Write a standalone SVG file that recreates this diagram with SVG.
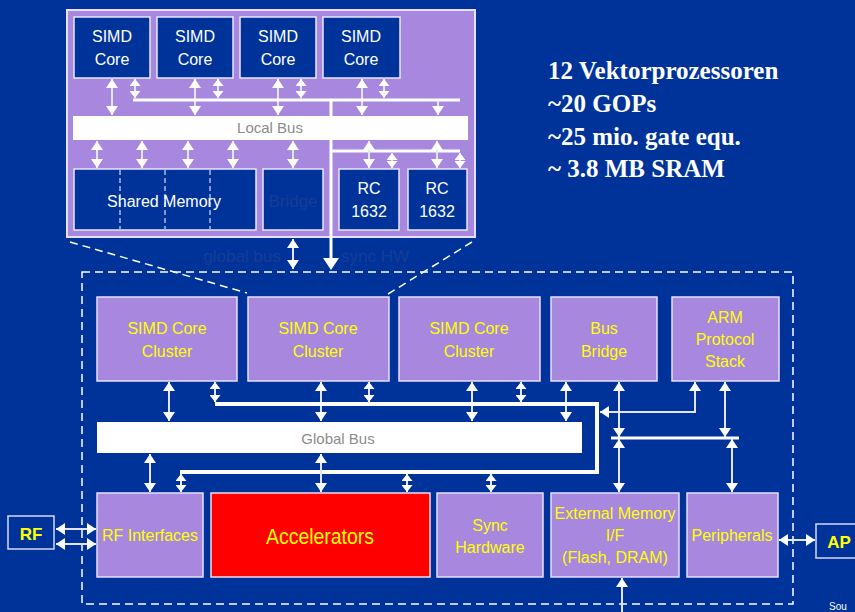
<svg xmlns="http://www.w3.org/2000/svg" width="855" height="612" viewBox="0 0 855 612">
<defs>
<marker id="ah" viewBox="0 0 9 12" refX="9" refY="6" markerWidth="9" markerHeight="12" markerUnits="userSpaceOnUse" orient="auto-start-reverse"><path d="M0,0 L9,6 L0,12 z" fill="#ffffff"/></marker>
<marker id="sh" viewBox="0 0 7 11" refX="7" refY="5.5" markerWidth="7" markerHeight="11" markerUnits="userSpaceOnUse" orient="auto-start-reverse"><path d="M0,0 L7,5.5 L0,11 z" fill="#ffffff"/></marker>
<style>
.bg{fill:#003399}
.pbox{fill:#A887DE;stroke:#E8E0F8;stroke-width:1.5}
.dbox{fill:#003399;stroke:#E8E8F8;stroke-width:1.5}
.bus{fill:#ffffff}
.t{font-family:"Liberation Sans",Arial,sans-serif;text-anchor:middle}
.w{fill:#ffffff;font-size:16px}
.y{fill:#FFFF00;font-size:16px}
.g{fill:#8C8C8C;font-size:15px}
.hid{fill:#163C98;font-size:17px}
.a{stroke:#E4E4F4;stroke-width:2;fill:none;marker-start:url(#ah);marker-end:url(#ah)}
.b{stroke:#E4E4F4;stroke-width:2;fill:none;marker-start:url(#sh);marker-end:url(#sh)}
.a1{stroke:#E4E4F4;stroke-width:2;fill:none;marker-end:url(#ah)}
.thick{stroke:#ffffff;fill:none}
.dash{stroke:#ffffff;stroke-width:1.5;fill:none;stroke-dasharray:8 5}
.s{font-family:"Liberation Serif","Times New Roman",serif;font-weight:bold;fill:#ffffff;font-size:25px}
</style>
</defs>
<rect class="bg" x="0" y="0" width="855" height="612"/>

<g id="inset">
<rect x="67" y="10" width="408" height="227" fill="#A887DE" stroke="#E8E0F8" stroke-width="2"/>
</g>
<g id="simd1"><rect class="dbox" x="74" y="17" width="76" height="61"/><text class="t w" x="112" y="42">SIMD</text><text class="t w" x="112" y="65">Core</text></g>
<g id="simd2"><rect class="dbox" x="157" y="17" width="76" height="61"/><text class="t w" x="195" y="42">SIMD</text><text class="t w" x="195" y="65">Core</text></g>
<g id="simd3"><rect class="dbox" x="240" y="17" width="76" height="61"/><text class="t w" x="278" y="42">SIMD</text><text class="t w" x="278" y="65">Core</text></g>
<g id="simd4"><rect class="dbox" x="323" y="17" width="77" height="61"/><text class="t w" x="361" y="42">SIMD</text><text class="t w" x="361" y="65">Core</text></g>
<g id="localbus"><rect class="bus" x="73" y="116" width="395" height="24"/><text class="t g" x="270" y="133">Local Bus</text></g>
<g id="sharedmem"><rect class="dbox" x="74" y="169" width="182" height="61"/>
<line x1="120" y1="170" x2="120" y2="229" stroke="#ffffff" stroke-width="1" stroke-dasharray="5 3"/>
<line x1="165" y1="170" x2="165" y2="229" stroke="#ffffff" stroke-width="1" stroke-dasharray="5 3"/>
<line x1="210" y1="170" x2="210" y2="229" stroke="#ffffff" stroke-width="1" stroke-dasharray="5 3"/>
<text class="t w" x="164" y="207">Shared Memory</text></g>
<g id="bridge"><rect class="dbox" x="263" y="169" width="60" height="61"/><text class="t hid" x="293" y="207">Bridge</text></g>
<g id="rc1"><rect class="dbox" x="339" y="169" width="60" height="61"/><text class="t w" x="369" y="194">RC</text><text class="t w" x="369" y="217">1632</text></g>
<g id="rc2"><rect class="dbox" x="408" y="169" width="59" height="61"/><text class="t w" x="437" y="194">RC</text><text class="t w" x="437" y="217">1632</text></g>

<text class="t hid" x="242" y="262">global bus</text>
<text class="t hid" x="375" y="262">sync HW</text>

<g id="specs">
<text class="s" x="548" y="79">12 Vektorprozessoren</text>
<text class="s" x="548" y="112">~20 GOPs</text>
<text class="s" x="548" y="145">~25 mio. gate equ.</text>
<text class="s" x="548" y="177">~ 3.8 MB SRAM</text>
</g>

<g id="cluster1"><rect class="pbox" x="97" y="297" width="140" height="84"/><text class="t y" x="167" y="334">SIMD Core</text><text class="t y" x="167" y="357">Cluster</text></g>
<g id="cluster2"><rect class="pbox" x="248" y="297" width="141" height="84"/><text class="t y" x="318" y="334">SIMD Core</text><text class="t y" x="318" y="357">Cluster</text></g>
<g id="cluster3"><rect class="pbox" x="399" y="297" width="141" height="84"/><text class="t y" x="469" y="334">SIMD Core</text><text class="t y" x="469" y="357">Cluster</text></g>
<g id="busbridge"><rect class="pbox" x="551" y="297" width="106" height="84"/><text class="t y" x="604" y="334">Bus</text><text class="t y" x="604" y="357">Bridge</text></g>
<g id="arm"><rect class="pbox" x="672" y="297" width="107" height="84"/><text class="t y" x="725" y="323">ARM</text><text class="t y" x="725" y="345">Protocol</text><text class="t y" x="725" y="367">Stack</text></g>
<g id="globalbus"><rect class="bus" x="97" y="422" width="485" height="31"/><text class="t g" x="338" y="444">Global Bus</text></g>
<g id="rfif"><rect class="pbox" x="97" y="493" width="106" height="84"/><text class="t y" x="150" y="541">RF Interfaces</text></g>
<g id="accel"><rect x="211" y="493" width="219" height="84" fill="#FF0000" stroke="#F0E0F0" stroke-width="1.5"/><text class="t" x="320" y="544" fill="#FFFF00" font-size="22" textLength="108" lengthAdjust="spacingAndGlyphs">Accelerators</text></g>
<g id="sync"><rect class="pbox" x="437" y="493" width="106" height="84"/><text class="t y" x="490" y="531">Sync</text><text class="t y" x="490" y="553">Hardware</text></g>
<g id="extmem"><rect class="pbox" x="551" y="493" width="128" height="84"/><text class="t y" x="615" y="519">External Memory</text><text class="t y" x="615" y="541">I/F</text><text class="t y" x="615" y="563">(Flash, DRAM)</text></g>
<g id="periph"><rect class="pbox" x="687" y="493" width="91" height="84"/><text class="t y" x="732" y="541">Peripherals</text></g>
<g id="rf"><rect x="8" y="516" width="46" height="33" fill="#003399" stroke="#D8D8F0" stroke-width="1.5"/><text class="t" x="31" y="540" fill="#FFFF00" font-size="17" font-weight="bold">RF</text></g>
<g id="ap"><rect x="816" y="524" width="45" height="34" fill="#003399" stroke="#D8D8F0" stroke-width="1.5"/><text class="t" x="839" y="548" fill="#FFFF00" font-size="17" font-weight="bold">AP</text></g>
<text x="829" y="610" font-family="Liberation Sans,Arial,sans-serif" font-size="10" fill="#ffffff">Sou</text>

<g id="connectors">
<line class="dash" x1="70" y1="242" x2="247" y2="293"/>
<line class="dash" x1="472" y1="242" x2="388" y2="294"/>
<rect class="dash" x="82" y="272" width="711" height="332"/>

<line class="a" x1="112" y1="79" x2="112" y2="115"/>
<line class="a" x1="195" y1="79" x2="195" y2="115"/>
<line class="a" x1="278" y1="79" x2="278" y2="115"/>
<line class="a" x1="362" y1="79" x2="362" y2="115"/>
<line class="b" x1="135" y1="79" x2="135" y2="98"/>
<line class="b" x1="218" y1="79" x2="218" y2="98"/>
<line class="b" x1="301" y1="79" x2="301" y2="98"/>
<line class="b" x1="384" y1="79" x2="384" y2="98"/>
<line class="thick" stroke-width="3" x1="133" y1="100" x2="460" y2="100"/>
<line class="a1" x1="438" y1="101" x2="438" y2="115"/>
<line stroke="#ffffff" stroke-width="3" x1="331" y1="100" x2="331" y2="262"/>
<path d="M323,258 L331,270 L339,258 z" fill="#ffffff"/>
<line class="thick" stroke-width="3" x1="331" y1="151" x2="460" y2="151"/>
<line class="a" x1="97" y1="141" x2="97" y2="168"/>
<line class="a" x1="142" y1="141" x2="142" y2="168"/>
<line class="a" x1="188" y1="141" x2="188" y2="168"/>
<line class="a" x1="233" y1="141" x2="233" y2="168"/>
<line class="a" x1="293" y1="141" x2="293" y2="168"/>
<line class="a" x1="369" y1="141" x2="369" y2="168"/>
<line class="a" x1="437" y1="141" x2="437" y2="168"/>
<line class="b" x1="392" y1="153" x2="392" y2="168"/>
<line class="b" x1="460" y1="153" x2="460" y2="168"/>
<line class="a" x1="293" y1="239" x2="293" y2="269"/>

<line class="a" x1="169" y1="382" x2="169" y2="421"/>
<line class="a" x1="321" y1="382" x2="321" y2="421"/>
<line class="a" x1="472" y1="382" x2="472" y2="421"/>
<line class="a" x1="566" y1="382" x2="566" y2="421"/>
<line class="b" x1="215" y1="382" x2="215" y2="402"/>
<line class="b" x1="369" y1="382" x2="369" y2="402"/>
<line class="b" x1="521" y1="382" x2="521" y2="402"/>
<path class="thick" stroke-width="4" d="M215,404 H597 V472 H180"/>
<path class="a" d="M695,382 V412 H600"/>
<line class="a" x1="619" y1="382" x2="619" y2="437"/>
<line class="a" x1="725" y1="382" x2="725" y2="437"/>
<line class="thick" stroke-width="3" x1="611" y1="438" x2="739" y2="438"/>
<line class="a" x1="619" y1="439" x2="619" y2="492"/>
<line class="a" x1="732" y1="439" x2="732" y2="492"/>
<line class="a" x1="150" y1="454" x2="150" y2="492"/>
<line class="a" x1="321" y1="454" x2="321" y2="492"/>
<line class="b" x1="181" y1="474" x2="181" y2="492"/>
<line class="b" x1="407" y1="474" x2="407" y2="492"/>
<line class="b" x1="491" y1="474" x2="491" y2="492"/>
<line class="a1" x1="622" y1="612" x2="622" y2="578"/>
<line class="a" x1="56" y1="529" x2="96" y2="529"/>
<line class="a" x1="56" y1="544" x2="96" y2="544"/>
<line class="a" x1="779" y1="540" x2="815" y2="540"/>
</g>
</svg>
